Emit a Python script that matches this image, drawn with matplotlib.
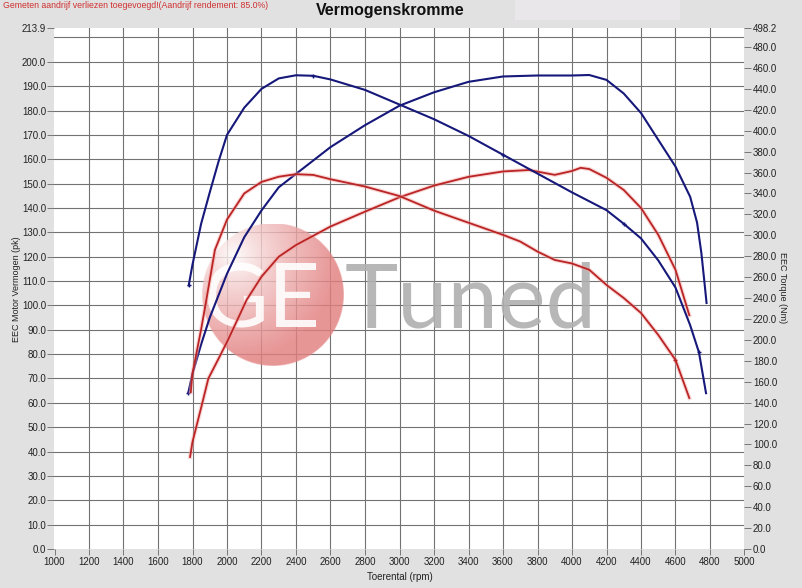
import numpy as np
import matplotlib.pyplot as plt
from matplotlib.patches import Rectangle

plt.rcParams['font.family'] = ['Liberation Sans', 'DejaVu Sans']

# --- gegevens ---
# getuned vermogen (pk)
rpm_blue_pk = [1775, 1800, 1850, 1900, 1950, 2000, 2100, 2200, 2300, 2400, 2600, 2800,
               3000, 3200, 3400, 3600, 3800, 4000, 4100, 4200, 4300, 4400, 4500, 4600,
               4685, 4725, 4750, 4770, 4780]
blue_pk = [64, 72, 84, 95, 104, 113, 128, 139, 148.5, 154, 165, 174,
           182, 187.5, 191.8, 194, 194.4, 194.4, 194.6, 192.6, 187, 179, 168, 157,
           144.6, 134, 121.5, 108, 101]

# getuned koppel (Nm)
rpm_blue_nm = [1778, 1800, 1850, 1900, 1950, 2000, 2100, 2200, 2300, 2400, 2500, 2600,
               2800, 3000, 3200, 3400, 3600, 3800, 4000, 4200, 4300, 4400, 4500, 4600,
               4685, 4736, 4777]
blue_nm = [252, 272, 311, 341, 370, 396, 422, 440, 450, 453, 452.5, 449,
           439, 425, 411, 395, 377, 359, 341, 324, 311, 297, 276, 250,
           214, 188, 149]

# standaard vermogen (pk)
rpm_red_pk = [1786, 1800, 1850, 1892, 1950, 2007, 2114, 2200, 2300, 2400, 2600, 2800,
              3000, 3200, 3400, 3600, 3750, 3900, 4000, 4050, 4100, 4200, 4300, 4400,
              4500, 4600, 4680]
red_pk = [37.8, 44, 58, 70, 78, 86, 102.3, 111.8, 120, 124.8, 132.4, 138.5,
          144.4, 149.2, 152.8, 155, 155.6, 153.6, 155.2, 156.5, 156, 152.4, 147.4, 140,
          129, 114.6, 96]

# standaard koppel (Nm)
rpm_red_nm = [1790, 1800, 1850, 1880, 1930, 2000, 2100, 2200, 2300, 2400, 2500, 2600,
              2800, 3000, 3200, 3400, 3600, 3700, 3800, 3900, 4000, 4100, 4200, 4300,
              4400, 4500, 4600, 4680]
red_nm = [150, 168, 210, 238, 286, 315, 340, 351, 356, 358.4, 357.7, 353.6,
          346.6, 337.5, 323.6, 312, 300.4, 294, 284.4, 276.4, 273, 267, 252.5, 240,
          225.7, 204.7, 180.8, 144.4]

x_ticks = list(range(1000, 5001, 200))
pk_ticks = list(range(0, 201, 10)) + [213.9]
nm_ticks = list(range(0, 481, 20)) + [498.2]

BLUE = '#16187a'
RED = '#bb2424'

W, H = 803, 588
fig = plt.figure(figsize=(W / 100, H / 100), dpi=100, facecolor='#e1e1e1')
fig.patches.append(Rectangle((515 / W, 1 - 20 / H), 165 / W, 20 / H,
                             transform=fig.transFigure, facecolor='#e9e7e9',
                             edgecolor='none', zorder=0))

ax = fig.add_axes([54.5 / W, 1 - 549 / H, 690 / W, 521 / H])
ax.set_facecolor('white')
ax.set_xlim(1000, 5000)
ax.set_ylim(0, 213.9)
for s in ax.spines.values():
    s.set_visible(False)

# rasterlijnen via minor ticks (niet laten wegvallen onder de major ticks)
ax.xaxis.remove_overlapping_locs = False
ax.yaxis.remove_overlapping_locs = False
ax.set_xticks(x_ticks)
ax.set_xticklabels([str(t) for t in x_ticks])
ax.set_xticks(x_ticks[1:-1], minor=True)
ax.set_yticks(pk_ticks)
ax.set_yticklabels(['%.1f' % t for t in pk_ticks])
ax.set_yticks(list(range(10, 211, 10)), minor=True)
ax.set_axisbelow(True)
ax.grid(which='minor', color='#727272', lw=0.8)
ax.tick_params(which='minor', length=0)
ax.tick_params(axis='y', which='major', direction='out', length=5, width=0.6,
               color='#666666', labelsize=7, labelcolor='#222222', pad=1)
ax.tick_params(axis='x', which='major', direction='out', length=4, width=0.6,
               color='#666666', labelsize=7, labelcolor='#222222', pad=2)

ax2 = ax.twinx()
ax2.set_ylim(0, 498.2)
for s in ax2.spines.values():
    s.set_visible(False)
ax2.set_yticks(nm_ticks)
ax2.set_yticklabels(['%.1f' % t for t in nm_ticks])
ax2.tick_params(axis='y', direction='out', length=5, width=0.6, color='#666666',
                labelsize=7, labelcolor='#222222', pad=1)

# watermerk: cirkel met verloop
n = 284
yy, xx = np.mgrid[0:n, 0:n]
u = (xx + 0.5) / n * 2 - 1
v = (yy + 0.5) / n * 2 - 1
r = np.sqrt(u ** 2 + v ** 2)
t = np.clip(np.sqrt((u + 0.55) ** 2 + (v + 0.55) ** 2) / 1.45, 0, 1) ** 0.8
pink = np.array([0.89, 0.50, 0.50])
img = np.zeros((n, n, 4))
for k in range(3):
    img[..., k] = (1 - t) * 1.0 + t * pink[k]
img[..., 3] = 0.82 * np.clip((1 - r) * n / 2, 0, 1)
wm = ax.inset_axes([(273 - 71 - 54.5) / 690, (549 - 366) / 521, 142 / 690, 142 / 521])
wm.set_zorder(1)
wm.imshow(img, extent=[0, 1, 0, 1], aspect='auto', interpolation='bilinear')
wm.axis('off')

ax.text(203 / W, 1 - 327 / H, 'GE', transform=fig.transFigure, fontsize=65,
        family='Lato', fontweight='normal', color='white', alpha=0.9,
        ha='left', va='baseline', zorder=1.5)
ax.text(345 / W, 1 - 327 / H, 'Tuned', transform=fig.transFigure, fontsize=65,
        family='Lato', fontweight='normal', color='#b0b0b0', alpha=0.9,
        ha='left', va='baseline', zorder=1.5)

# curves
ax.plot(rpm_red_pk, red_pk, color='#f2a5a5', lw=3.0, alpha=0.45, zorder=2)
ax.plot(rpm_red_pk, red_pk, color=RED, lw=1.3, zorder=2.1)
ax.plot(rpm_blue_pk, blue_pk, color=BLUE, lw=1.5, zorder=2.2,
        marker='+', ms=3, markevery=[0])
ax2.plot(rpm_red_nm, red_nm, color='#f2a5a5', lw=3.0, alpha=0.45, zorder=2)
ax2.plot(rpm_red_nm, red_nm, color=RED, lw=1.3, zorder=2.1,
         marker='+', ms=3, markevery=[26])
ax2.plot(rpm_blue_nm, blue_nm, color=BLUE, lw=1.5, zorder=2.2,
         marker='+', ms=3, markevery=[0, 10, 16, 20, 25])

# teksten
fig.text(3 / W, 1 - 5 / H, 'Gemeten aandrijf verliezen toegevoegd!(Aandrijf rendement: 85.0%)',
         fontsize=6.3, color='#d03030', ha='left', va='center')
fig.text(390 / W, 1 - 10 / H, 'Vermogenskromme', fontsize=11.5, fontweight='bold',
         color='#111111', ha='center', va='center')
fig.text(17 / W, 1 - 289 / H, 'EEC Motor Vermogen (pk)', rotation=90, fontsize=6.5,
         color='#222222', ha='center', va='center')
fig.text(783 / W, 1 - 288 / H, 'EEC Torque (Nm)', rotation=270, fontsize=6.5,
         color='#222222', ha='center', va='center')
fig.text(400 / W, 1 - 577 / H, 'Toerental (rpm)', fontsize=7, color='#222222',
         ha='center', va='center')

fig.savefig('out.png', dpi=100, facecolor=fig.get_facecolor())
